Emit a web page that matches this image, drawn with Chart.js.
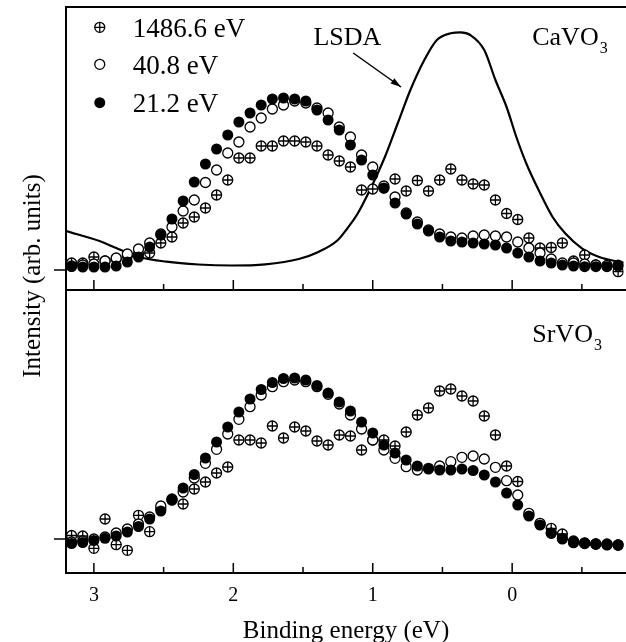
<!DOCTYPE html>
<html>
<head>
<meta charset="utf-8">
<script src="https://cdn.jsdelivr.net/npm/chart.js@4.4.0/dist/chart.umd.min.js"></script>
<style>
  html, body { margin: 0; padding: 0; background: #fff; overflow: hidden; }
  #wrap { position: relative; width: 630px; height: 642px; }
</style>
</head>
<body>
<div id="wrap"><canvas id="grafica" width="630" height="642"></canvas></div>
<script>
// Energías de enlace (eV) de los puntos medidos
const energias = [3.16, 3.08, 3.00, 2.92, 2.84, 2.76, 2.68, 2.60, 2.52, 2.44,
  2.36, 2.28, 2.20, 2.12, 2.04, 1.96, 1.88, 1.80, 1.72, 1.64,
  1.56, 1.48, 1.40, 1.32, 1.24, 1.16, 1.08, 1.00, 0.92, 0.84,
  0.76, 0.68, 0.60, 0.52, 0.44, 0.36, 0.28, 0.20, 0.12, 0.04,
  -0.04, -0.12, -0.20, -0.28, -0.36, -0.44, -0.52, -0.60, -0.68, -0.76];

// CaVO3 (panel superior)
const caVO3_212 = [0.035, 0.03, 0.03, 0.03, 0.04, 0.08, 0.13, 0.23, 0.35, 0.51,
  0.69, 0.88, 1.06, 1.21, 1.35, 1.48, 1.57, 1.65, 1.71, 1.72,
  1.71, 1.69, 1.60, 1.50, 1.40, 1.25, 1.10, 0.95, 0.82, 0.67,
  0.56, 0.46, 0.39, 0.33, 0.29, 0.28, 0.27, 0.26, 0.25, 0.22,
  0.17, 0.13, 0.09, 0.07, 0.05, 0.04, 0.033, 0.033, 0.033, 0.05];
const caVO3_408 = [0.04, 0.05, 0.06, 0.09, 0.12, 0.16, 0.21, 0.27, 0.36, 0.43,
  0.59, 0.70, 0.875, 1.00, 1.17, 1.28, 1.43, 1.52, 1.61, 1.65,
  1.69, 1.67, 1.62, 1.57, 1.43, 1.33, 1.15, 1.03, 0.84, 0.73,
  0.57, 0.48, 0.40, 0.36, 0.33, 0.32, 0.34, 0.35, 0.34, 0.33,
  0.28, 0.22, 0.17, 0.11, 0.07, 0.07, 0.06, 0.05, 0.045, 0.04];
const caVO3_14866 = [0.07, 0.07, 0.13, 0.09, 0.11, 0.14, 0.16, 0.17, 0.27, 0.33,
  0.47, 0.53, 0.62, 0.75, 0.90, 1.12, 1.12, 1.24, 1.24, 1.29,
  1.29, 1.28, 1.24, 1.15, 1.09, 1.03, 0.80, 0.81, 0.82, 0.91,
  0.79, 0.895, 0.79, 0.90, 1.01, 0.90, 0.86, 0.85, 0.70, 0.565,
  0.505, 0.32, 0.22, 0.225, 0.27, 0.09, 0.15, 0.05, 0.04, -0.017];

// Curva LSDA
const lsdaEnergia = [3.20, 2.96, 2.84, 2.69, 2.48, 2.25, 2.01, 1.77, 1.53, 1.39,
  1.25, 1.18, 1.11, 1.01, 0.91, 0.82, 0.73, 0.63, 0.54, 0.44,
  0.37, 0.30, 0.20, 0.12, 0.04, -0.03, -0.10, -0.20, -0.29, -0.38,
  -0.50, -0.62, -0.76, -0.80];
const lsdaIntensidad = [0.39, 0.29, 0.22, 0.135, 0.083, 0.055, 0.045, 0.057, 0.11, 0.18,
  0.30, 0.42, 0.56, 0.83, 1.14, 1.47, 1.80, 2.10, 2.30, 2.367,
  2.377, 2.35, 2.20, 1.90, 1.63, 1.33, 1.07, 0.77, 0.53, 0.367,
  0.217, 0.133, 0.083, 0.075];

// SrVO3 (panel inferior)
const srVO3_212 = [-0.045, -0.035, -0.015, 0.007, 0.03, 0.07, 0.125, 0.20, 0.28, 0.39,
  0.51, 0.645, 0.81, 0.97, 1.12, 1.27, 1.40, 1.495, 1.565, 1.605,
  1.61, 1.59, 1.535, 1.46, 1.37, 1.28, 1.17, 1.06, 0.94, 0.86,
  0.79, 0.73, 0.70, 0.69, 0.69, 0.70, 0.685, 0.64, 0.57, 0.46,
  0.34, 0.23, 0.14, 0.06, 0.00, -0.03, -0.04, -0.05, -0.06, -0.06];
const srVO3_408 = [-0.03, -0.02, 0.0, 0.02, 0.06, 0.10, 0.15, 0.22, 0.33, 0.39,
  0.47, 0.61, 0.757, 0.897, 1.05, 1.197, 1.323, 1.44, 1.523, 1.573,
  1.59, 1.573, 1.523, 1.447, 1.35, 1.24, 1.10, 0.99, 0.89, 0.807,
  0.723, 0.69, 0.707, 0.73, 0.773, 0.817, 0.83, 0.80, 0.717, 0.583,
  0.44, 0.257, 0.157, 0.057, 0.007, -0.037, -0.045, -0.05, -0.055, -0.06];
const srVO3_14866 = [0.035, 0.03, -0.093, 0.20, -0.057, -0.113, 0.237, 0.073, 0.30, 0.40,
  0.35, 0.50, 0.57, 0.66, 0.72, 0.99, 0.99, 0.96, 1.13, 1.01,
  1.12, 1.08, 0.98, 0.94, 1.04, 1.03, 0.89, 0.99, 0.99, 0.93,
  1.07, 1.24, 1.31, 1.48, 1.50, 1.43, 1.38, 1.23, 1.04, 0.73,
  0.575, 0.24, 0.15, 0.107, 0.05, -0.02, -0.04, -0.05, -0.05, -0.06];

const etiquetasLeyenda = ['1486.6 eV', '40.8 eV', '21.2 eV'];
const xTickValues = [3, 2, 1, 0];
const xMarcas = [3, 2.5, 2, 1.5, 1, 0.5, 0, -0.5];

const FUENTE = '"Liberation Serif", "Times New Roman", serif';

const pares = (xs, ys) => xs.map((x, i) => ({ x, y: ys[i] }));

function serieLlena(data, eje) {
  return { data: pares(energias, data), yAxisID: eje, showLine: false, order: 0,
    pointStyle: 'circle', pointRadius: 5.5, pointBackgroundColor: '#000', pointBorderWidth: 0 };
}
function serieAbierta(data, eje) {
  return { data: pares(energias, data), yAxisID: eje, showLine: false, order: 1,
    pointStyle: 'circle', pointRadius: 5, pointBackgroundColor: '#fff', pointBorderColor: '#000', pointBorderWidth: 1.3 };
}
// círculo con cruz = círculo abierto + cruz encima
function serieCruz(data, eje) {
  return { data: pares(energias, data), yAxisID: eje, showLine: false, order: 2,
    pointStyle: 'cross', pointRadius: 5, pointBorderColor: '#000', pointBorderWidth: 1.3 };
}
function serieCruzAro(data, eje) {
  return { data: pares(energias, data), yAxisID: eje, showLine: false, order: 3,
    pointStyle: 'circle', pointRadius: 5, pointBackgroundColor: '#fff', pointBorderColor: '#000', pointBorderWidth: 1.3 };
}

const anotaciones = {
  id: 'anotaciones',
  afterDraw(chart) {
    const ctx = chart.ctx;
    const x = chart.scales.x;
    const yT = chart.scales.yTop;
    const yB = chart.scales.yBot;
    const area = chart.chartArea;
    ctx.save();
    ctx.strokeStyle = '#000';
    ctx.fillStyle = '#000';

    // marcos y marcas de los dos paneles
    [yT, yB].forEach(s => {
      ctx.lineWidth = 2;
      ctx.strokeRect(area.left, s.top, area.right + 10 - area.left, s.bottom - s.top);
      ctx.lineWidth = 1.5;
      xMarcas.forEach(v => {
        const px = x.getPixelForValue(v);
        const len = Number.isInteger(v) ? 10 : 6;
        ctx.beginPath(); ctx.moveTo(px, s.bottom); ctx.lineTo(px, s.bottom - len); ctx.stroke();
      });
      const py = s.getPixelForValue(0);
      ctx.beginPath(); ctx.moveTo(area.left - 12, py); ctx.lineTo(area.left, py); ctx.stroke();
    });

    // leyenda
    const filas = [2.427, 2.057, 1.673];
    const bases = [2.333, 1.96, 1.583];
    const mx = x.getPixelForValue(2.958);
    const tx = x.getPixelForValue(2.722);
    ctx.font = '27px ' + FUENTE;
    ctx.textBaseline = 'alphabetic';
    etiquetasLeyenda.forEach((t, i) => {
      const my = yT.getPixelForValue(filas[i]);
      if (i < 2) {
        ctx.lineWidth = 1.3; ctx.fillStyle = '#fff';
        ctx.beginPath(); ctx.arc(mx, my, 5, 0, Math.PI * 2); ctx.fill(); ctx.stroke();
        if (i === 0) {
          ctx.beginPath();
          ctx.moveTo(mx - 5, my); ctx.lineTo(mx + 5, my);
          ctx.moveTo(mx, my - 5); ctx.lineTo(mx, my + 5);
          ctx.stroke();
        }
      } else {
        ctx.fillStyle = '#000';
        ctx.beginPath(); ctx.arc(mx, my, 5.5, 0, Math.PI * 2); ctx.fill();
      }
      ctx.fillStyle = '#000';
      ctx.fillText(t, tx, yT.getPixelForValue(bases[i]));
    });

    // etiquetas de compuestos
    function compuesto(base, sub, ex, ey) {
      ctx.font = '26px ' + FUENTE;
      ctx.fillText(base, ex, ey);
      const w = ctx.measureText(base).width;
      ctx.font = '16px ' + FUENTE;
      ctx.fillText(sub, ex + w + 1, ey + 8);
    }
    compuesto('CaVO', '3', x.getPixelForValue(-0.144), yT.getPixelForValue(2.25));
    compuesto('SrVO', '3', x.getPixelForValue(-0.144), yB.getPixelForValue(1.97));

    // LSDA y flecha
    ctx.font = '26px ' + FUENTE;
    ctx.fillText('LSDA', x.getPixelForValue(1.425), yT.getPixelForValue(2.25));
    const ax0 = x.getPixelForValue(1.14), ay0 = yT.getPixelForValue(2.17);
    const ax1 = x.getPixelForValue(0.797), ay1 = yT.getPixelForValue(1.83);
    ctx.lineWidth = 1.5;
    ctx.beginPath(); ctx.moveTo(ax0, ay0); ctx.lineTo(ax1, ay1); ctx.stroke();
    const ang = Math.atan2(ay1 - ay0, ax1 - ax0);
    ctx.beginPath();
    ctx.moveTo(ax1, ay1);
    ctx.lineTo(ax1 - 11 * Math.cos(ang - 0.3), ay1 - 11 * Math.sin(ang - 0.3));
    ctx.lineTo(ax1 - 11 * Math.cos(ang + 0.3), ay1 - 11 * Math.sin(ang + 0.3));
    ctx.closePath(); ctx.fill();

    // títulos de ejes
    ctx.font = '25px ' + FUENTE;
    ctx.textAlign = 'center';
    ctx.fillText('Binding energy (eV)', (area.left + 626) / 2, 638);
    ctx.save();
    ctx.translate(40, 276);
    ctx.rotate(-Math.PI / 2);
    ctx.fillText('Intensity (arb. units)', 0, 0);
    ctx.restore();

    ctx.restore();
  }
};

const ctx = document.getElementById('grafica');
new Chart(ctx, {
  type: 'scatter',
  data: {
    datasets: [
      serieLlena(caVO3_212, 'yTop'),
      serieAbierta(caVO3_408, 'yTop'),
      serieCruz(caVO3_14866, 'yTop'),
      serieCruzAro(caVO3_14866, 'yTop'),
      {
        type: 'line',
        data: pares(lsdaEnergia, lsdaIntensidad),
        yAxisID: 'yTop',
        order: 4,
        borderColor: '#000',
        borderWidth: 2.2,
        pointRadius: 0,
        fill: false,
        cubicInterpolationMode: 'monotone'
      },
      serieLlena(srVO3_212, 'yBot'),
      serieAbierta(srVO3_408, 'yBot'),
      serieCruz(srVO3_14866, 'yBot'),
      serieCruzAro(srVO3_14866, 'yBot')
    ]
  },
  options: {
    responsive: false,
    animation: false,
    devicePixelRatio: 1,
    layout: { padding: { top: 7, right: 3, bottom: 0, left: 0 } },
    plugins: { legend: { display: false }, tooltip: { enabled: false } },
    scales: {
      x: {
        type: 'linear',
        min: -0.8,
        max: 3.2,
        reverse: true,
        afterBuildTicks: s => { s.ticks = xTickValues.map(v => ({ value: v })); },
        afterFit: s => { s.height = 69; },
        grid: { display: false, drawTicks: false },
        border: { display: false },
        ticks: { color: '#000', padding: 11, font: { family: FUENTE, size: 20 } }
      },
      // en una pila, el primer eje queda abajo
      yBot: {
        type: 'linear', position: 'left', stack: 'paneles', stackWeight: 1,
        min: -0.34, max: 2.49,
        afterFit: s => { s.width = 66; },
        grid: { display: false, drawTicks: false },
        border: { display: false },
        ticks: { display: false }
      },
      yTop: {
        type: 'linear', position: 'left', stack: 'paneles', stackWeight: 1,
        min: -0.2, max: 2.63,
        afterFit: s => { s.width = 66; },
        grid: { display: false, drawTicks: false },
        border: { display: false },
        ticks: { display: false }
      }
    }
  },
  plugins: [anotaciones]
});
</script>
</body>
</html>
